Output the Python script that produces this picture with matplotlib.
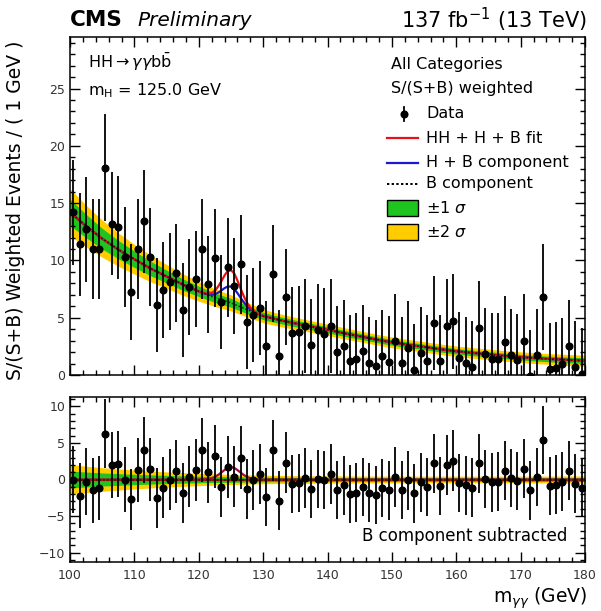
import numpy as np
import matplotlib
matplotlib.use("Agg")
import matplotlib.pyplot as plt
from matplotlib.lines import Line2D
from matplotlib.patches import Rectangle
from matplotlib.ticker import MultipleLocator

plt.rcParams['font.family'] = ['DejaVu Sans']
plt.rcParams['mathtext.fontset'] = 'dejavusans'

# bin centres, 1 GeV bins from 100 to 180
mass = np.arange(100.5, 180.0, 1.0)

data_vals = [14.2, 11.4, 12.7, 11.0, 11.0, 18.1, 13.2, 12.9, 10.3, 7.25,
             11.0, 13.4, 10.3, 6.1, 7.4, 8.15, 8.9, 5.7, 7.7, 8.4,
             11.0, 7.9, 10.2, 6.4, 9.4, 7.8, 9.65, 4.6, 5.24, 5.85,
             2.5, 8.85, 1.7, 6.8, 3.7, 3.75, 4.3, 2.6, 3.9, 3.55,
             4.3, 2.05, 2.55, 1.2, 1.4, 2.1, 1.07, 0.76, 1.66, 1.13,
             2.97, 1.07, 2.4, 0.46, 1.9, 1.22, 4.5, 1.22, 4.25, 4.7,
             1.5, 1.07, 0.7, 4.1, 1.86, 1.37, 1.37, 2.85, 1.75, 1.3,
             3.0, -0.1, 1.75, 6.8, 0.5, 0.64, 1.0, 2.5, 0.73, 0.1]

data_err = [4.6, 4.5, 4.6, 4.4, 4.4, 4.7, 4.5, 4.5, 4.4, 4.2,
            4.4, 4.5, 4.3, 4.1, 4.2, 4.2, 4.3, 4.1, 4.2, 4.2,
            4.4, 4.2, 4.3, 4.1, 4.3, 4.2, 4.3, 4.1, 4.1, 4.1,
            4.0, 4.2, 4.0, 4.2, 4.0, 4.0, 4.1, 4.0, 4.0, 4.0,
            4.1, 4.0, 4.0, 4.0, 4.0, 4.0, 4.0, 4.0, 4.0, 4.0,
            4.1, 4.0, 4.05, 4.0, 4.0, 4.0, 4.1, 4.0, 4.15, 4.15,
            4.0, 4.0, 4.0, 4.1, 4.0, 4.0, 4.0, 4.05, 4.0, 4.0,
            4.05, 4.0, 4.0, 4.6, 4.0, 4.0, 4.0, 4.05, 4.0, 4.0]

resid_vals = [0.0, -2.2, -0.3, -1.5, -1.2, 6.3, 2.0, 2.1, 0.0, -2.7,
              1.3, 4.0, 1.4, -2.5, -1.1, 0.0, 1.1, -1.8, 0.4, 1.3,
              4.0, 1.0, 3.2, -1.0, 1.7, 0.4, 3.0, -1.3, -0.1, 0.7,
              -2.4, 4.0, -2.9, 2.3, -0.6, -0.5, 0.2, -1.3, 0.1, -0.1,
              0.7, -1.4, -0.8, -2.0, -1.8, -1.0, -1.8, -2.1, -1.2, -1.5,
              0.35, -1.4, -0.1, -1.9, -0.4, -1.0, 2.2, -0.9, 2.0, 2.6,
              -0.5, -0.8, -1.1, 2.2, 0.1, -0.4, -0.3, 1.2, 0.2, -0.2,
              1.5, -1.5, 0.35, 5.4, -0.9, -0.7, -0.3, 1.2, -0.55, -1.1]

# background fit and its uncertainty bands
bkg_mass = [100, 102.5, 105, 107.5, 110, 112.5, 115, 117.5, 120, 122.5, 125,
            127.5, 130, 132.5, 135, 137.5, 140, 142.5, 145, 147.5, 150, 152.5,
            155, 157.5, 160, 162.5, 165, 167.5, 170, 172.5, 175, 177.5, 180]
bkg_vals = [14.2, 13.0, 11.9, 10.95, 10.1, 9.3, 8.6, 7.9, 7.3, 6.75, 6.3,
            5.7, 5.15, 4.8, 4.5, 4.22, 3.95, 3.65, 3.38, 3.1, 2.85, 2.64,
            2.45, 2.25, 2.07, 1.93, 1.8, 1.67, 1.56, 1.46, 1.38, 1.31, 1.25]
sig1_vals = [1.15, 1.02, 0.9, 0.8, 0.71, 0.63, 0.56, 0.5, 0.45, 0.41, 0.38,
             0.35, 0.32, 0.3, 0.29, 0.28, 0.27, 0.26, 0.26, 0.25, 0.25, 0.25,
             0.24, 0.24, 0.24, 0.24, 0.24, 0.24, 0.24, 0.24, 0.25, 0.25, 0.25]
sig2_vals = [2.05, 1.82, 1.62, 1.45, 1.3, 1.16, 1.04, 0.94, 0.85, 0.77, 0.7,
             0.64, 0.59, 0.56, 0.53, 0.51, 0.5, 0.49, 0.48, 0.47, 0.47, 0.46,
             0.46, 0.46, 0.46, 0.46, 0.46, 0.46, 0.46, 0.47, 0.47, 0.48, 0.48]

# signal peaks on top of the background
sig_mass = [120.0, 121.0, 121.5, 122.0, 122.5, 123.0, 123.5, 124.0, 124.5,
            125.0, 125.5, 126.0, 126.5, 127.0, 127.5, 128.0, 128.5, 129.5]
hh_h_exc = [0.0, 0.05, 0.13, 0.3, 0.6, 1.05, 1.6, 2.2, 2.7,
            2.85, 2.7, 2.2, 1.6, 1.05, 0.6, 0.3, 0.13, 0.0]
h_exc = [0.0, 0.02, 0.06, 0.14, 0.3, 0.52, 0.8, 1.1, 1.33,
         1.42, 1.33, 1.1, 0.8, 0.52, 0.3, 0.14, 0.06, 0.0]
ratio_exc = [0.0, 0.03, 0.08, 0.18, 0.36, 0.62, 0.95, 1.3, 1.6,
             1.7, 1.6, 1.3, 0.95, 0.62, 0.36, 0.18, 0.08, 0.0]

GREEN = "#1fc41f"
YELLOW = "#ffcc00"
RED = "#e8101a"
BLUE = "#1a1ad0"
W, H = 601.0, 611.0


def fx(x):
    return x / W


def fy(y):
    return 1.0 - y / H


def root_style(ax, xmin_step, ymaj, ymin_step):
    ax.xaxis.set_major_locator(MultipleLocator(10))
    ax.xaxis.set_minor_locator(MultipleLocator(xmin_step))
    ax.yaxis.set_major_locator(MultipleLocator(ymaj))
    ax.yaxis.set_minor_locator(MultipleLocator(ymin_step))
    ax.tick_params(which="both", direction="in", top=True, right=True,
                   width=1.0, labelsize=9, labelcolor="#333333")
    ax.tick_params(which="major", length=7)
    ax.tick_params(which="minor", length=3.5)
    for s in ax.spines.values():
        s.set_linewidth(1.1)


fig = plt.figure(figsize=(6.01, 6.11), dpi=100)
ax = fig.add_axes([fx(70), fy(375), 515 / W, 338 / H])
rax = fig.add_axes([fx(70), fy(562), 515 / W, 165 / H])

bkg = np.array(bkg_vals)
s1 = np.array(sig1_vals)
s2 = np.array(sig2_vals)

x_line = np.union1d(bkg_mass, sig_mass)
b_line = np.interp(x_line, bkg_mass, bkg_vals)
red_line = b_line + np.interp(x_line, sig_mass, hh_h_exc, left=0, right=0)
blue_line = b_line + np.interp(x_line, sig_mass, h_exc, left=0, right=0)
rat_line = np.interp(x_line, sig_mass, ratio_exc, left=0, right=0)

# main panel
ax.fill_between(bkg_mass, bkg - s2, bkg + s2, color=YELLOW, lw=0)
ax.fill_between(bkg_mass, bkg - s1, bkg + s1, color=GREEN, lw=0)
ax.plot(x_line, blue_line, color=BLUE, lw=1.6)
ax.plot(x_line, red_line, color=RED, lw=1.6)
ax.plot(bkg_mass, bkg_vals, color="black", lw=1.1, ls=(0, (1.2, 1.2)), alpha=0.7)
ax.errorbar(mass, data_vals, yerr=data_err, fmt="o", color="black", ms=4.8,
            elinewidth=1.3, capsize=0)
ax.set_xlim(100, 180)
ax.set_ylim(0, 29.5)
root_style(ax, 2, 5, 1)
ax.tick_params(labelbottom=False)

# ratio panel
zero = np.zeros(len(bkg_mass))
rax.fill_between(bkg_mass, zero - s2, zero + s2, color=YELLOW, lw=0)
rax.fill_between(bkg_mass, zero - s1, zero + s1, color=GREEN, lw=0)
rax.plot(x_line, rat_line, color="#9a1040", lw=1.6)
rax.plot(bkg_mass, zero, color="#a01a10", lw=1.6)
rax.plot(bkg_mass, zero, color="black", lw=1.1, ls=(0, (1.2, 1.2)), alpha=0.6)
rax.errorbar(mass, resid_vals, yerr=data_err, fmt="o", color="black", ms=4.8,
             elinewidth=1.3, capsize=0)
rax.set_xlim(100, 180)
rax.set_ylim(-11.3, 11.3)
root_style(rax, 2, 5, 1)
rax.tick_params(axis="x", pad=5)
rax.text(0.965, 0.155, "B component subtracted", transform=rax.transAxes,
         ha="right", va="center", fontsize=12)

# header
fig.text(fx(70), fy(20), "CMS", fontsize=15.5, fontweight="bold", va="center")
fig.text(fx(137), fy(20), "Preliminary", fontsize=14.5, style="italic", va="center")
fig.text(fx(587), fy(20), r"137 fb$^{-1}$ (13 TeV)", fontsize=15, ha="right", va="center")

# y axis title, spans both panels like in the reference
fig.text(fx(16), fy(210), "S/(S+B) Weighted Events / ( 1 GeV )", fontsize=13.5,
         rotation=90, ha="center", va="center")

# annotations
fig.text(fx(88), fy(62), r"HH$\rightarrow\gamma\gamma$b$\bar{\mathrm{b}}$", fontsize=11.5, va="center")
fig.text(fx(88), fy(91), r"m$_{\mathrm{H}}$ = 125.0 GeV", fontsize=11.5, va="center")
fig.text(fx(391), fy(65), "All Categories", fontsize=11.5, va="center")
fig.text(fx(391), fy(89), "S/(S+B) weighted", fontsize=11.5, va="center")

# legend
rows = [114, 138, 163, 184, 208, 232]
labels = ["Data", "HH + H + B fit", "H + B component", "B component",
          r"$\pm$1 $\sigma$", r"$\pm$2 $\sigma$"]
for yy, lab in zip(rows, labels):
    fig.text(fx(426), fy(yy), lab, fontsize=11.5, va="center")
fig.add_artist(Line2D([fx(404), fx(404)], [fy(107), fy(121)], color="black", lw=1.3))
fig.add_artist(Line2D([fx(404)], [fy(114)], marker="o", color="black", ms=4.8))
fig.add_artist(Line2D([fx(387), fx(418)], [fy(138), fy(138)], color=RED, lw=1.6))
fig.add_artist(Line2D([fx(387), fx(418)], [fy(163), fy(163)], color=BLUE, lw=1.6))
fig.add_artist(Line2D([fx(387), fx(418)], [fy(184), fy(184)], color="black", lw=1.4,
                      ls=(0, (1.2, 1.2))))
fig.add_artist(Rectangle((fx(387), fy(216)), 31 / W, 16 / H, facecolor=GREEN,
                         edgecolor="black", lw=1.0))
fig.add_artist(Rectangle((fx(387), fy(240)), 31 / W, 16 / H, facecolor=YELLOW,
                         edgecolor="black", lw=1.0))

fig.text(fx(587), fy(598), r"m$_{\gamma\gamma}$ (GeV)", fontsize=13.5, ha="right", va="center")

fig.savefig("out.png", dpi=100)
